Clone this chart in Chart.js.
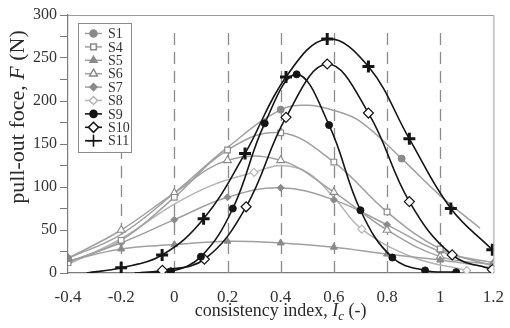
<!DOCTYPE html>
<html>
<head>
<meta charset="utf-8">
<script src="https://cdn.jsdelivr.net/npm/chart.js@4.4.0/dist/chart.umd.min.js"></script>
<style>
  html, body { margin: 0; padding: 0; background: #fff; }
  #wrap { width: 510px; height: 328px; }
</style>
</head>
<body>
<div id="wrap"><canvas id="pulloutChart" width="510" height="328"></canvas></div>
<script>
/* Pull-out force vs consistency index */

// axis ticks
const xTickValues = [-0.4, -0.2, 0, 0.2, 0.4, 0.6, 0.8, 1.0, 1.2];
const yTickValues = [0, 25, 50, 75, 100, 125, 150, 175, 200, 225, 250, 275, 300];

// gray series, measured at the grid values of Ic
const icGrid = [-0.4, -0.2, 0, 0.2, 0.4, 0.6, 0.8, 1.0, 1.2];
const s4Force = [12, 38, 88, 143, 163, 129, 71, 28, 8];
const s5Force = [14, 28, 33, 37, 35, 30, 22, 15, 6];
const s6Force = [17, 50, 93, 131, 131, 94, 50, 19, 10];
const s7Force = [13, 35, 62, 88, 99, 85, 56, 25, 12];

const s1MarkIc = [-0.4, 0.4, 0.855];
const s1MarkF = [17, 190, 133];
const s1CurveIc = [-0.2, 0, 0.2, 0.5, 0.6, 0.7, 1.0, 1.15];
const s1CurveF = [45, 93, 146, 195, 189, 176, 90, 52];

const s8MarkIc = [0.3, 0.705, 1.1];
const s8MarkF = [117, 51, 3];
const s8CurveIc = [-0.4, -0.2, 0, 0.15, 0.4, 0.5, 0.6, 0.9];
const s8CurveF = [10, 40, 80, 103, 125, 117, 88, 18];

// black series (fitted bell curves)
const s9MarkIc = [-0.013, 0.10, 0.22, 0.34, 0.46, 0.582, 0.70, 0.82, 0.943, 1.06];
const s9MarkF = [2, 19, 75, 174, 231, 172, 73, 18, 3, 1];
const s9CurveIc = [-0.15];
const s9CurveF = [0];

const s10MarkIc = [-0.045, 0.113, 0.27, 0.42, 0.575, 0.73, 0.884, 1.045, 1.196];
const s10MarkF = [3, 16, 77, 181, 243, 186, 83, 21, 4];
const s10CurveIc = [-0.14];
const s10CurveF = [0];

const s11MarkIc = [-0.2, -0.046, 0.11, 0.266, 0.42, 0.575, 0.73, 0.884, 1.04, 1.196];
const s11MarkF = [6, 21, 63, 139, 228, 272, 240, 156, 75, 27];
const s11CurveIc = [-0.33];
const s11CurveF = [0];

const SERIF = "'Liberation Serif', 'DejaVu Serif', serif";
const GRAY = '#8a8a8a';
const GRAY_LINE = '#a0a0a0';
const LIGHT = '#b4b4b4';
const BLACK = '#151515';

function pts(xs, ys) {
	return xs.map((x, i) => ({ x: x, y: ys[i] }));
}
function traced(mx, my, cx, cy) {
	return pts(mx, my).concat(pts(cx, cy)).sort((a, b) => a.x - b.x);
}

const series = [
	{ label: 'S1', marks: pts(s1MarkIc, s1MarkF), curve: traced(s1MarkIc, s1MarkF, s1CurveIc, s1CurveF),
	  color: GRAY, line: GRAY_LINE, fill: GRAY, style: 'circle', r: 3.5, bw: 1, lw: 1.5 },
	{ label: 'S4', marks: pts(icGrid, s4Force), curve: pts(icGrid, s4Force),
	  color: GRAY, line: GRAY_LINE, fill: '#fff', style: 'rect', r: 4, bw: 1.2, lw: 1.5 },
	{ label: 'S5', marks: pts(icGrid, s5Force), curve: pts(icGrid, s5Force),
	  color: GRAY, line: GRAY_LINE, fill: GRAY, style: 'triangle', r: 4, bw: 1, lw: 1.5 },
	{ label: 'S6', marks: pts(icGrid, s6Force), curve: pts(icGrid, s6Force),
	  color: GRAY, line: GRAY_LINE, fill: '#fff', style: 'triangle', r: 4.5, bw: 1.1, lw: 1.5 },
	{ label: 'S7', marks: pts(icGrid, s7Force), curve: pts(icGrid, s7Force),
	  color: GRAY, line: GRAY_LINE, fill: GRAY, style: 'rectRot', r: 3.5, bw: 1, lw: 1.5 },
	{ label: 'S8', marks: pts(s8MarkIc, s8MarkF), curve: traced(s8MarkIc, s8MarkF, s8CurveIc, s8CurveF),
	  color: LIGHT, line: LIGHT, fill: '#fff', style: 'rectRot', r: 4, bw: 1.1, lw: 1.5 },
	{ label: 'S9', marks: pts(s9MarkIc, s9MarkF), curve: traced(s9MarkIc, s9MarkF, s9CurveIc, s9CurveF),
	  color: BLACK, line: BLACK, fill: BLACK, style: 'circle', r: 3.5, bw: 1, lw: 1.6 },
	{ label: 'S10', marks: pts(s10MarkIc, s10MarkF), curve: traced(s10MarkIc, s10MarkF, s10CurveIc, s10CurveF),
	  color: BLACK, line: BLACK, fill: '#fff', style: 'rectRot', r: 5, bw: 1.2, lw: 1.6 },
	{ label: 'S11', marks: pts(s11MarkIc, s11MarkF), curve: traced(s11MarkIc, s11MarkF, s11CurveIc, s11CurveF),
	  color: BLACK, line: BLACK, fill: BLACK, style: 'cross', r: 6, bw: 3, lw: 1.6 }
];

const datasets = [];
series.forEach((s, i) => {
	const front = i >= 6 ? 0 : 10; // black curves on top
	datasets.push({
		label: s.label + ' curve', data: s.curve, borderColor: s.line, borderWidth: s.lw,
		pointRadius: 0, tension: 0.4, fill: false, order: front + 5
	});
	datasets.push({
		label: s.label, data: s.marks, showLine: false, pointStyle: s.style,
		pointRadius: s.r, pointBorderWidth: s.bw, pointBorderColor: s.color,
		pointBackgroundColor: s.fill, order: front
	});
});

function drawPieces(ctx, pieces, cx, y) {
	let total = 0;
	pieces.forEach(p => { ctx.font = p.font; total += ctx.measureText(p.text).width; });
	let x = cx - total / 2;
	pieces.forEach(p => {
		ctx.font = p.font;
		ctx.fillText(p.text, x, y + (p.dy || 0));
		x += ctx.measureText(p.text).width;
	});
}

const decor = {
	id: 'decor',
	beforeDatasetsDraw(chart) {
		const { ctx, chartArea: a, scales: { x } } = chart;
		ctx.save();
		// dashed vertical grid
		ctx.strokeStyle = '#8c8c8c';
		ctx.lineWidth = 1.3;
		ctx.setLineDash([12, 7]);
		xTickValues.forEach(v => {
			if (v <= x.min || v >= x.max) return;
			const px = Math.round(x.getPixelForValue(v)) + 0.5;
			ctx.beginPath();
			ctx.moveTo(px, a.bottom);
			ctx.lineTo(px, a.top + 13);
			ctx.stroke();
		});
		// frame top and right
		ctx.setLineDash([]);
		ctx.strokeStyle = '#9a9a9a';
		ctx.lineWidth = 1;
		ctx.beginPath();
		ctx.moveTo(a.left, a.top + 0.5);
		ctx.lineTo(a.right + 0.5, a.top + 0.5);
		ctx.lineTo(a.right + 0.5, a.bottom);
		ctx.stroke();
		ctx.restore();
	},
	afterDraw(chart) {
		const { ctx, chartArea: a } = chart;
		ctx.save();
		// legend
		const lx = a.left + 10, ly = a.top + 8;
		ctx.fillStyle = '#fff';
		ctx.fillRect(lx, ly, 53, 129);
		ctx.strokeStyle = '#8a8a8a';
		ctx.lineWidth = 1;
		ctx.strokeRect(lx + 0.5, ly + 0.5, 53, 129);
		series.forEach((s, i) => {
			const y = ly + 10.5 + i * 13.4;
			ctx.strokeStyle = s.line;
			ctx.lineWidth = s.lw;
			ctx.beginPath();
			ctx.moveTo(lx + 7, y);
			ctx.lineTo(lx + 24, y);
			ctx.stroke();
			ctx.fillStyle = s.fill;
			ctx.strokeStyle = s.color;
			Chart.helpers.drawPoint(ctx, { pointStyle: s.style, radius: s.r, borderWidth: s.bw, rotation: 0 }, lx + 15.5, y);
			ctx.fillStyle = '#333';
			ctx.font = '14px ' + SERIF;
			ctx.textBaseline = 'middle';
			ctx.textAlign = 'left';
			ctx.fillText(s.label, lx + 30, y + 1);
		});
		// axis titles
		ctx.fillStyle = '#2a2a2a';
		ctx.textBaseline = 'alphabetic';
		ctx.textAlign = 'left';
		drawPieces(ctx, [
			{ text: 'consistency index, ', font: '18px ' + SERIF },
			{ text: 'I', font: 'italic 18px ' + SERIF },
			{ text: 'c', font: 'italic 13px ' + SERIF, dy: 4 },
			{ text: ' (-)', font: '18px ' + SERIF }
		], (a.left + a.right) / 2, 316);
		ctx.translate(24, 117);
		ctx.rotate(-Math.PI / 2);
		drawPieces(ctx, [
			{ text: 'pull-out foce, ', font: '22px ' + SERIF },
			{ text: 'F', font: 'italic 22px ' + SERIF },
			{ text: ' (N)', font: '22px ' + SERIF }
		], 0, 0);
		ctx.restore();
	}
};

new Chart(document.getElementById('pulloutChart'), {
	type: 'line',
	data: { datasets: datasets },
	plugins: [decor],
	options: {
		responsive: false,
		animation: false,
		events: [],
		layout: { padding: { top: 15, right: 12, left: 0, bottom: 0 } },
		plugins: { legend: { display: false }, tooltip: { enabled: false } },
		scales: {
			x: {
				type: 'linear', min: -0.4, max: 1.2,
				afterBuildTicks: s => { s.ticks = xTickValues.map(v => ({ value: v })); },
				afterFit: s => { s.height = 55; },
				grid: { display: false },
				border: { display: true, color: '#7a7a7a', width: 1.2 },
				ticks: {
					padding: 6, color: '#333', font: { family: SERIF, size: 17 },
					maxRotation: 0, autoSkip: false,
					callback: v => String(Math.round(v * 10) / 10)
				}
			},
			y: {
				min: 0, max: 300,
				afterBuildTicks: s => { s.ticks = yTickValues.map(v => ({ value: v })); },
				afterFit: s => { s.width = 68; },
				grid: { display: true, drawOnChartArea: false, drawTicks: true, tickLength: 8, color: '#7a7a7a' },
				border: { display: true, color: '#7a7a7a', width: 1.2 },
				ticks: {
					padding: 3, color: '#333', font: { family: SERIF, size: 16 }, autoSkip: false,
					callback: v => (v % 50 === 0 ? String(v) : '')
				}
			}
		}
	}
});
</script>
</body>
</html>
